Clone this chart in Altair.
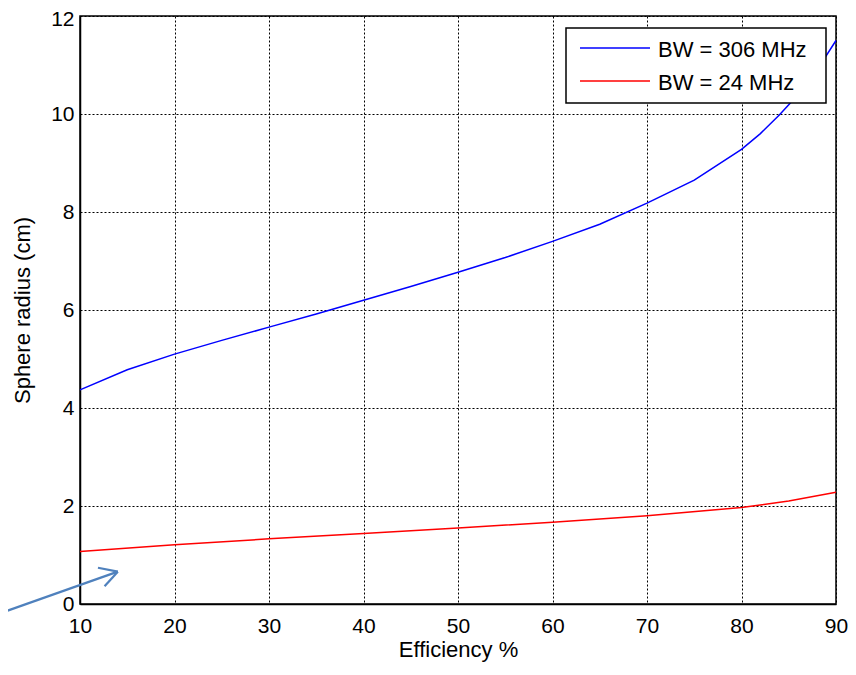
import altair as alt
import pandas as pd

# Series
blue_x = [10, 15, 20, 25, 30, 35, 40, 45, 50, 55, 60, 65, 70, 75, 80, 82, 84, 86, 88, 90]
blue_y = [4.37, 4.78, 5.10, 5.38, 5.65, 5.92, 6.20, 6.48, 6.77, 7.07, 7.40, 7.75, 8.18, 8.65, 9.28, 9.60, 9.98, 10.40, 10.90, 11.50]
red_x = [10, 20, 30, 40, 50, 60, 70, 80, 85, 90]
red_y = [1.07, 1.21, 1.33, 1.44, 1.55, 1.67, 1.80, 1.97, 2.10, 2.28]
series_names = ["BW = 306 MHz", "BW = 24 MHz"]
series_colors = ["#0000ff", "#ff0000"]
x_ticks = [10, 20, 30, 40, 50, 60, 70, 80, 90]
y_ticks = [0, 2, 4, 6, 8, 10, 12]

# Annotation arrow (in data units, outside the plotting domain)
arrow_x = [1.4, 14.0]
arrow_y = [-0.2, 0.66]
wing_x = [[14.0, 11.9], [14.0, 12.6]]
wing_y = [[0.66, 0.74], [0.66, 0.36]]

FONT = "Liberation Sans"
W, H = 756, 588

rows = []
for x, y in zip(blue_x, blue_y):
    rows.append({"x": x, "y": y, "s": series_names[0]})
for x, y in zip(red_x, red_y):
    rows.append({"x": x, "y": y, "s": series_names[1]})
df = pd.DataFrame(rows)

xs = alt.Scale(domain=[10, 90], nice=False)
ys = alt.Scale(domain=[0, 12], nice=False)

lines = alt.Chart(df).mark_line(strokeWidth=1.5).encode(
    x=alt.X("x:Q", scale=xs, title="Efficiency %",
            axis=alt.Axis(values=x_ticks, labelFlush=False)),
    y=alt.Y("y:Q", scale=ys, title="Sphere radius (cm)",
            axis=alt.Axis(values=y_ticks, labelFlush=False,
                          labelOffset={"condition": {"test": "datum.value == 12", "value": 3},
                                       "value": 0})),
    color=alt.Color("s:N", scale=alt.Scale(domain=series_names, range=series_colors),
                    legend=None),
)

arrow_df = pd.DataFrame({"x": [arrow_x[0]], "y": [arrow_y[0]], "x2": [arrow_x[1]], "y2": [arrow_y[1]]})
wings_df = pd.DataFrame({"x": [w[0] for w in wing_x], "x2": [w[1] for w in wing_x],
                         "y": [w[0] for w in wing_y], "y2": [w[1] for w in wing_y]})
arrow_all = pd.concat([arrow_df, wings_df], ignore_index=True)

arrow = alt.Chart(arrow_all).mark_rule(color="#4f81bd", strokeWidth=2.2, clip=False).encode(
    x=alt.X("x:Q", scale=xs), y=alt.Y("y:Q", scale=ys), x2="x2:Q", y2="y2:Q"
)

# Custom legend box (MATLAB style), placed in pixel space of the plot area
box_right = W - 10
box_left = box_right - 260
one = pd.DataFrame({"a": [0]})
legend_layers = [
    alt.Chart(one).mark_rect(fill="white", stroke="black", strokeWidth=1.5).encode(
        x=alt.value(box_left), x2=alt.value(box_right), y=alt.value(12), y2=alt.value(87)
    )
]
for k, (name, col) in enumerate(zip(series_names, series_colors)):
    ly = 32 + 33 * k
    legend_layers.append(
        alt.Chart(one).mark_rule(strokeWidth=1.5, color=col).encode(
            x=alt.value(box_left + 14), x2=alt.value(box_left + 84), y=alt.value(ly)
        )
    )
    legend_layers.append(
        alt.Chart(one).mark_text(align="left", baseline="middle", fontSize=22, font=FONT,
                                 color="black", text=name).encode(
            x=alt.value(box_left + 92), y=alt.value(ly + 2)
        )
    )

chart = alt.layer(lines, arrow, *legend_layers).properties(
    width=W, height=H,
    autosize=alt.AutoSizeParams(type="none"),
    padding={"left": 72, "top": 8, "right": 12, "bottom": 59},
).configure_view(stroke="black", strokeWidth=1.5).configure_axis(
    grid=True, gridColor="black", gridDash=[2, 2], gridOpacity=1, gridWidth=1,
    domainColor="black", domainWidth=1.5, ticks=False,
    labelFont=FONT, labelFontSize=21, labelColor="black",
    titleFont=FONT, titleFontSize=22, titleFontWeight="normal", titleColor="black",
).configure_axisX(labelPadding=11, titlePadding=3).configure_axisY(labelPadding=6, titlePadding=16)

chart.save("out.html", embed_options={"renderer": "svg", "actions": False})
